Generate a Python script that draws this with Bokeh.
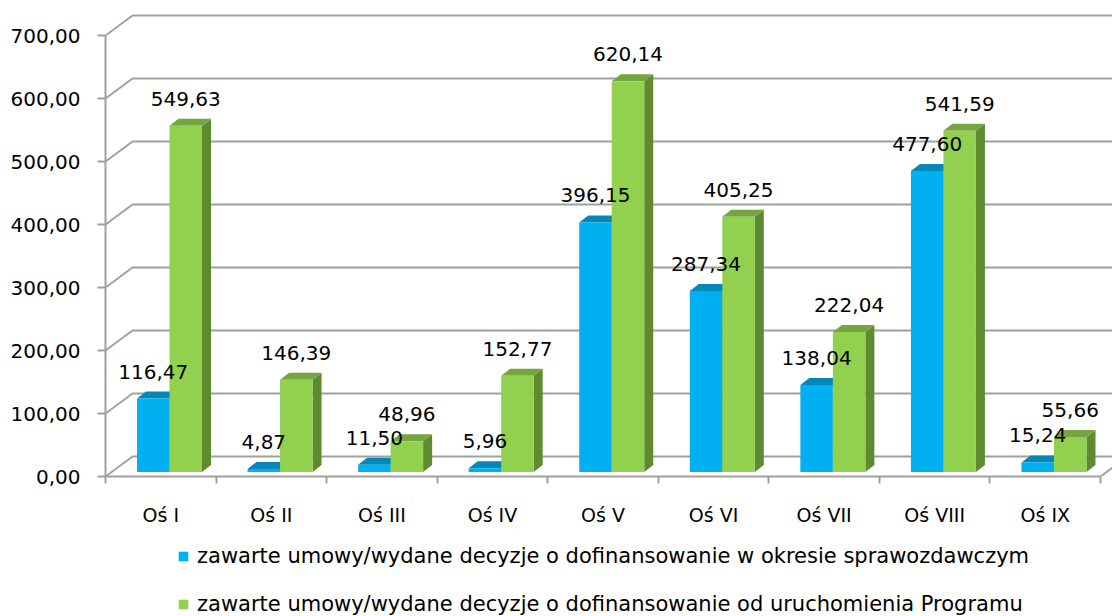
from bokeh.plotting import figure
from bokeh.layouts import column
from bokeh.models import Range1d, FixedTicker, Legend, LegendItem
from bokeh.core.properties import value
from bokeh.embed import file_html
from bokeh.resources import INLINE

# ---------------- data ----------------
categories = ["Oś I", "Oś II", "Oś III", "Oś IV", "Oś V", "Oś VI", "Oś VII", "Oś VIII", "Oś IX"]
period_values = [116.47, 4.87, 11.50, 5.96, 396.15, 287.34, 138.04, 477.60, 15.24]
total_values = [549.63, 146.39, 48.96, 152.77, 620.14, 405.25, 222.04, 541.59, 55.66]
period_labels = ["116,47", "4,87", "11,50", "5,96", "396,15", "287,34", "138,04", "477,60", "15,24"]
total_labels = ["549,63", "146,39", "48,96", "152,77", "620,14", "405,25", "222,04", "541,59", "55,66"]
y_ticks = [0, 100, 200, 300, 400, 500, 600, 700]
y_tick_labels = ["0,00", "100,00", "200,00", "300,00", "400,00", "500,00", "600,00", "700,00"]
series_names = [
    "zawarte umowy/wydane decyzje o dofinansowanie w okresie sprawozdawczym",
    "zawarte umowy/wydane decyzje o dofinansowanie od uruchomienia Programu",
]

# ---------------- styling / geometry ----------------
FONT = "DejaVu Sans"
W, H_MAIN, H_LEG = 1112, 540, 76
BORDER_L, BORDER_R, BORDER_T, BORDER_B = 105, 0, 10, 64
FRAME_W = W - BORDER_L - BORDER_R
FRAME_H = H_MAIN - BORDER_T - BORDER_B
PX_X = 110.56          # pixels per category
PX_Y = 0.63            # pixels per value unit
X_END = FRAME_W / PX_X
Y_END = FRAME_H / PX_Y
BACK_DX, BACK_DY = 27 / PX_X, 20 / PX_Y       # depth of the 3D box
BAR_OFF, BAR_W = 31.5 / PX_X, 32.5 / PX_X      # bar placement in a category
BASE = 4.5 / PX_Y                              # bar base above front floor edge
DEP_DX, DEP_DY = 9 / PX_X, 7 / PX_Y            # bar depth
LABEL_UP = 27 / PX_Y
GRID = "#a0a0a0"

colors = [
    dict(front="#00B0F0", top="#0587B8", side="#0078A6"),
    dict(front="#92D050", top="#74A53E", side="#5E8A30"),
]

p = figure(width=W, height=H_MAIN, output_backend="svg", toolbar_location=None,
           x_range=Range1d(0, X_END), y_range=Range1d(0, Y_END),
           min_border_left=BORDER_L, min_border_right=BORDER_R,
           min_border_top=BORDER_T, min_border_bottom=BORDER_B)
p.outline_line_color = None
p.xgrid.visible = False
p.ygrid.visible = False
p.background_fill_color = "white"
p.border_fill_color = "white"

# gridlines on left wall + back wall
gx, gy = [], []
for v in y_ticks:
    gx.append([0, BACK_DX, X_END + 1])
    gy.append([v, v + BACK_DY, v + BACK_DY])
n = len(categories)
gx.append([n, n + BACK_DX])
gy.append([0, BACK_DY])
p.multi_line(gx, gy, line_color=GRID, line_width=2)

# bars
label_x, label_y, label_t = [], [], []
for s, (vals, labs) in enumerate([(period_values, period_labels), (total_values, total_labels)]):
    lefts = [i + BAR_OFF + s * BAR_W for i in range(n)]
    rights = [l + BAR_W for l in lefts]
    tops = [v + BASE for v in vals]
    side_xs = [[r, r + DEP_DX, r + DEP_DX, r] for r in rights]
    side_ys = [[BASE, BASE + DEP_DY, t + DEP_DY, t] for t in tops]
    top_xs = [[l, r, r + DEP_DX, l + DEP_DX] for l, r in zip(lefts, rights)]
    top_ys = [[t, t, t + DEP_DY, t + DEP_DY] for t in tops]
    p.patches(side_xs, side_ys, fill_color=colors[s]["side"], line_color=None)
    p.patches(top_xs, top_ys, fill_color=colors[s]["top"], line_color=None)
    p.quad(left=lefts, right=rights, bottom=BASE, top=tops,
           fill_color=colors[s]["front"], line_color=None)
    label_x += [(l + rr) / 2 for l, rr in zip(lefts, rights)]
    label_y += [t + LABEL_UP for t in tops]
    label_t += labs

p.text(label_x, label_y, text=label_t, text_font=value(FONT), text_font_size="20px",
       text_align="center", text_baseline="alphabetic", text_color="#000000")

# y axis
ya = p.yaxis[0]
ya.ticker = FixedTicker(ticks=y_ticks)
ya.major_label_overrides = {t: l for t, l in zip(y_ticks, y_tick_labels)}
ya.bounds = (0, 700)
ya.axis_line_color = GRID
ya.axis_line_width = 2
ya.major_tick_line_color = GRID
ya.major_tick_line_width = 2
ya.major_tick_out = 8
ya.major_tick_in = 0
ya.minor_tick_line_color = None
ya.major_label_standoff = 17
ya.major_label_text_font = FONT
ya.major_label_text_font_size = "20px"
ya.major_label_text_color = "#000000"

# x axis
xa = p.xaxis[0]
centers = [i + 0.5 for i in range(n)]
xa.ticker = FixedTicker(ticks=centers, minor_ticks=list(range(n + 1)))
xa.major_label_overrides = {c: name for c, name in zip(centers, categories)}
xa.bounds = (0, n)
xa.axis_line_color = GRID
xa.axis_line_width = 2
xa.major_tick_line_color = None
xa.major_tick_out = 0
xa.major_tick_in = 0
xa.minor_tick_line_color = GRID
xa.minor_tick_line_width = 2
xa.minor_tick_out = 7
xa.minor_tick_in = 0
xa.major_label_standoff = 20
xa.major_label_text_font = FONT
xa.major_label_text_font_size = "19px"
xa.major_label_text_color = "#000000"

# legend figure below the chart
pl = figure(width=W, height=H_LEG, output_backend="svg", toolbar_location=None,
            x_range=Range1d(0, 1), y_range=Range1d(0, 1),
            x_axis_type=None, y_axis_type=None,
            min_border_left=0, min_border_right=0, min_border_top=0, min_border_bottom=0)
pl.outline_line_color = None
pl.xgrid.visible = False
pl.ygrid.visible = False
leg_renderers = []
for s in range(2):
    leg_renderers.append(pl.quad(left=[2], right=[3], bottom=[2], top=[3],
                                 fill_color=colors[s]["front"], line_color=None))
legend = Legend(items=[LegendItem(label=series_names[i], renderers=[leg_renderers[i]]) for i in range(2)],
                location=(72, 0), orientation="vertical",
                glyph_width=12, glyph_height=12, label_height=25, spacing=23,
                label_standoff=8, padding=0, margin=0,
                border_line_color=None, background_fill_alpha=0,
                label_text_font=FONT, label_text_font_size="21px", label_text_color="#000000")
pl.add_layout(legend)

layout = column(p, pl, spacing=0)
open("out.html", "w").write(file_html(layout, INLINE))
